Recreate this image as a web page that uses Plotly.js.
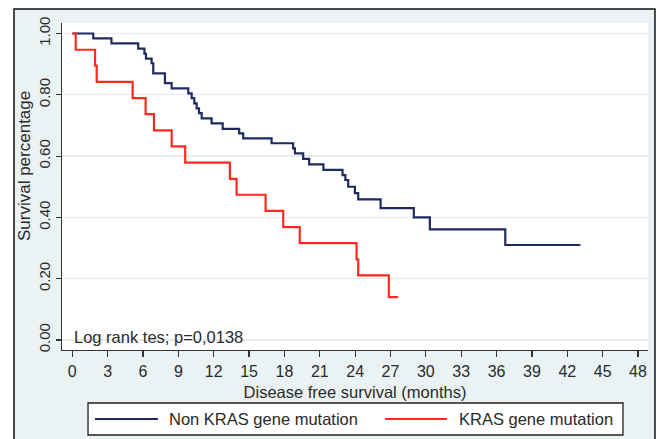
<!DOCTYPE html>
<html>
<head>
<meta charset="utf-8">
<script src="https://cdn.plot.ly/plotly-3.0.1.min.js"></script>
<style>html,body{margin:0;padding:0;background:#fff;}#chart{width:664px;height:439px;}</style>
</head>
<body>
<div id="chart"></div>
<script>
// Kaplan-Meier step data
var nonKrasTime = [0, 1.78, 3.32, 5.59, 6.12, 6.25, 6.73, 6.87, 7.86, 8.43, 9.84, 10.13, 10.35, 10.55, 10.75, 10.98, 11.82, 12.76, 14.16, 14.50, 16.91, 18.74, 18.89, 19.59, 20.10, 21.31, 22.93, 23.17, 23.41, 23.98, 24.26, 26.16, 28.98, 30.34, 36.74, 43.12];
var nonKrasSurv = [1.0, 0.984, 0.968, 0.951, 0.934, 0.918, 0.903, 0.870, 0.838, 0.821, 0.805, 0.789, 0.772, 0.756, 0.740, 0.723, 0.707, 0.689, 0.674, 0.658, 0.642, 0.625, 0.609, 0.591, 0.573, 0.555, 0.538, 0.522, 0.500, 0.479, 0.459, 0.430, 0.400, 0.361, 0.310, 0.310];
var krasTime = [0, 0.29, 1.93, 2.07, 5.12, 6.22, 6.93, 8.43, 9.58, 13.37, 13.94, 16.4, 17.9, 19.3, 24.12, 24.26, 26.86, 27.65];
var krasSurv = [1.0, 0.947, 0.895, 0.842, 0.789, 0.737, 0.684, 0.632, 0.579, 0.526, 0.474, 0.421, 0.368, 0.316, 0.263, 0.211, 0.140, 0.140];
var seriesNames = ["Non KRAS gene mutation", "KRAS gene mutation"];
var xTickVals = [0, 3, 6, 9, 12, 15, 18, 21, 24, 27, 30, 33, 36, 39, 42, 45, 48];
var yTickVals = [0, 0.2, 0.4, 0.6, 0.8, 1.0];
var xTitle = "Disease free survival (months)";
var yTitle = "Survival percentage";
var noteText = "Log rank tes; p=0,0138";

var NAVY = "#1f2b5e", RED = "#ff2a1f";
var FONT = "Liberation Sans, Arial, sans-serif";
var TXT = "#2a2a2a";

var traces = [
  {x: nonKrasTime, y: nonKrasSurv, type: "scatter", mode: "lines", line: {shape: "hv", color: NAVY, width: 2.2}, name: seriesNames[0], showlegend: false},
  {x: krasTime, y: krasSurv, type: "scatter", mode: "lines", line: {shape: "hv", color: RED, width: 2.2}, name: seriesNames[1], showlegend: false}
];

var layout = {
  width: 664, height: 439,
  margin: {l: 62, r: 16, t: 23, b: 89},
  paper_bgcolor: "#ffffff",
  plot_bgcolor: "#ffffff",
  font: {family: FONT, color: TXT, size: 15},
  xaxis: {
    range: [-0.874, 48.85], tickvals: xTickVals, ticks: "outside", ticklen: 6, tickwidth: 1.2, tickcolor: "#333",
    showline: true, linecolor: "#333", linewidth: 1.3, showgrid: false, zeroline: false,
    tickfont: {family: FONT, size: 16, color: TXT},
    title: {text: xTitle, font: {family: FONT, size: 16.5, color: TXT}, standoff: 8}
  },
  yaxis: {
    range: [-0.0326, 1.0343], tickvals: yTickVals, tickformat: ".2f", tickangle: -90, ticks: "outside", ticklen: 5, tickwidth: 1.2, tickcolor: "#333",
    showline: true, linecolor: "#333", linewidth: 1.3, showgrid: true, gridcolor: "#e3ecee", gridwidth: 1.3, zeroline: false,
    tickfont: {family: FONT, size: 15, color: TXT}
  },
  shapes: [
    {type: "rect", xref: "paper", yref: "paper", x0: -0.0819, x1: 1.0119, y0: -0.31, y1: 1.0428, fillcolor: "#eaf2f3", line: {color: "#111", width: 1.5}, layer: "below"},
    {type: "rect", xref: "paper", yref: "paper", x0: 0, x1: 1, y0: 0, y1: 1, fillcolor: "#ffffff", line: {width: 0}, layer: "below"},
    {type: "rect", xref: "paper", yref: "paper", x0: 0.0444, x1: 0.9573, y0: -0.2599, y1: -0.1621, fillcolor: "#ffffff", line: {color: "#222", width: 1.3}, layer: "above"},
    {type: "line", xref: "paper", yref: "paper", x0: 0.0563, x1: 0.1638, y0: -0.211, y1: -0.211, line: {color: NAVY, width: 2}, layer: "above"},
    {type: "line", xref: "paper", yref: "paper", x0: 0.5512, x1: 0.657, y0: -0.211, y1: -0.211, line: {color: RED, width: 2}, layer: "above"}
  ],
  annotations: [
    {text: yTitle, xref: "paper", yref: "paper", x: -0.0631, y: 0.5627, xanchor: "center", yanchor: "middle", textangle: -90, showarrow: false, font: {family: FONT, size: 17, color: TXT}},
    {text: noteText, xref: "paper", yref: "paper", x: 0.0176, y: 0.0398, xanchor: "left", yanchor: "middle", showarrow: false, font: {family: FONT, size: 16.5, color: TXT}},
    {text: seriesNames[0], xref: "paper", yref: "paper", x: 0.1792, y: -0.211, xanchor: "left", yanchor: "middle", showarrow: false, font: {family: FONT, size: 16.5, color: TXT}},
    {text: seriesNames[1], xref: "paper", yref: "paper", x: 0.674, y: -0.211, xanchor: "left", yanchor: "middle", showarrow: false, font: {family: FONT, size: 16.5, color: TXT}}
  ]
};

Plotly.newPlot("chart", traces, layout, {displayModeBar: false, staticPlot: true});
</script>
</body>
</html>
